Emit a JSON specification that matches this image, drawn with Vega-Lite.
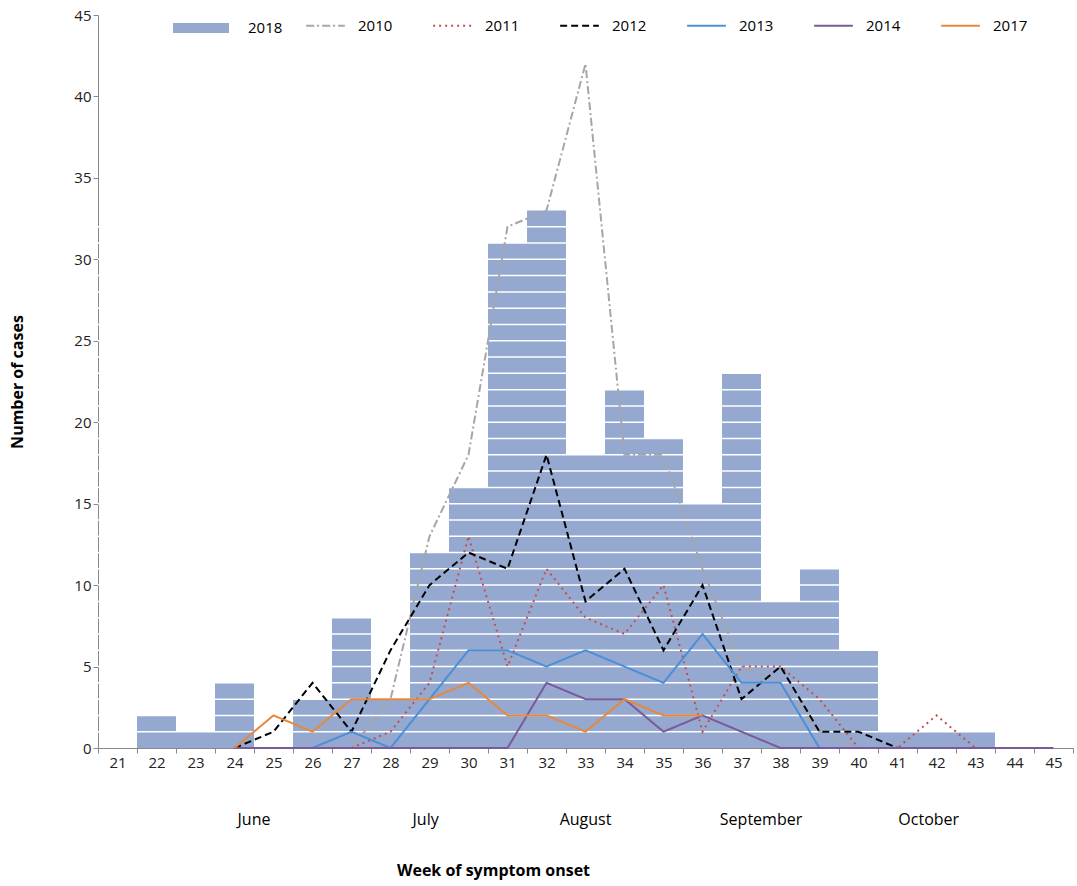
{
  "$schema": "https://vega.github.io/schema/vega-lite/v6.json",
  "width": 975,
  "height": 733,
  "autosize": "none",
  "padding": {"left": 98, "top": 15, "right": 4, "bottom": 138},
  "background": "white",
  "config": {
    "view": {"stroke": null},
    "font": "Open Sans",
    "axis": {"labelFont": "Open Sans", "labelFontSize": 15, "labelColor": "#222", "domainColor": "#888", "tickColor": "#888", "grid": false, "titleFont": "Open Sans", "titleFontSize": 16, "titleFontWeight": "bold", "titleColor": "#000"}
  },
  "datasets": {
    "bars": [
      {"week": 21, "cases": 0}, {"week": 22, "cases": 2}, {"week": 23, "cases": 1}, {"week": 24, "cases": 4},
      {"week": 25, "cases": 0}, {"week": 26, "cases": 3}, {"week": 27, "cases": 8}, {"week": 28, "cases": 3},
      {"week": 29, "cases": 12}, {"week": 30, "cases": 16}, {"week": 31, "cases": 31}, {"week": 32, "cases": 33},
      {"week": 33, "cases": 18}, {"week": 34, "cases": 22}, {"week": 35, "cases": 19}, {"week": 36, "cases": 15},
      {"week": 37, "cases": 23}, {"week": 38, "cases": 9}, {"week": 39, "cases": 11}, {"week": 40, "cases": 6},
      {"week": 41, "cases": 1}, {"week": 42, "cases": 1}, {"week": 43, "cases": 1}, {"week": 44, "cases": 0},
      {"week": 45, "cases": 0}
    ],
    "units": [
      {"u": 1}, {"u": 2}, {"u": 3}, {"u": 4}, {"u": 5}, {"u": 6}, {"u": 7}, {"u": 8}, {"u": 9}, {"u": 10},
      {"u": 11}, {"u": 12}, {"u": 13}, {"u": 14}, {"u": 15}, {"u": 16}, {"u": 17}, {"u": 18}, {"u": 19}, {"u": 20},
      {"u": 21}, {"u": 22}, {"u": 23}, {"u": 24}, {"u": 25}, {"u": 26}, {"u": 27}, {"u": 28}, {"u": 29}, {"u": 30},
      {"u": 31}, {"u": 32}
    ],
    "lines": [
      {"year": "2010", "week": 27, "cases": 0}, {"year": "2010", "week": 28, "cases": 3}, {"year": "2010", "week": 29, "cases": 13},
      {"year": "2010", "week": 30, "cases": 18}, {"year": "2010", "week": 31, "cases": 32}, {"year": "2010", "week": 32, "cases": 33},
      {"year": "2010", "week": 33, "cases": 42}, {"year": "2010", "week": 34, "cases": 18}, {"year": "2010", "week": 35, "cases": 18},
      {"year": "2010", "week": 36, "cases": 11}, {"year": "2010", "week": 37, "cases": 5}, {"year": "2010", "week": 38, "cases": 4},
      {"year": "2010", "week": 39, "cases": 1}, {"year": "2010", "week": 40, "cases": 0},
      {"year": "2011", "week": 27, "cases": 0}, {"year": "2011", "week": 28, "cases": 1}, {"year": "2011", "week": 29, "cases": 4},
      {"year": "2011", "week": 30, "cases": 13}, {"year": "2011", "week": 31, "cases": 5}, {"year": "2011", "week": 32, "cases": 11},
      {"year": "2011", "week": 33, "cases": 8}, {"year": "2011", "week": 34, "cases": 7}, {"year": "2011", "week": 35, "cases": 10},
      {"year": "2011", "week": 36, "cases": 1}, {"year": "2011", "week": 37, "cases": 5}, {"year": "2011", "week": 38, "cases": 5},
      {"year": "2011", "week": 39, "cases": 3}, {"year": "2011", "week": 40, "cases": 0}, {"year": "2011", "week": 41, "cases": 0},
      {"year": "2011", "week": 42, "cases": 2}, {"year": "2011", "week": 43, "cases": 0},
      {"year": "2012", "week": 24, "cases": 0}, {"year": "2012", "week": 25, "cases": 1}, {"year": "2012", "week": 26, "cases": 4},
      {"year": "2012", "week": 27, "cases": 1}, {"year": "2012", "week": 28, "cases": 6}, {"year": "2012", "week": 29, "cases": 10},
      {"year": "2012", "week": 30, "cases": 12}, {"year": "2012", "week": 31, "cases": 11}, {"year": "2012", "week": 32, "cases": 18},
      {"year": "2012", "week": 33, "cases": 9}, {"year": "2012", "week": 34, "cases": 11}, {"year": "2012", "week": 35, "cases": 6},
      {"year": "2012", "week": 36, "cases": 10}, {"year": "2012", "week": 37, "cases": 3}, {"year": "2012", "week": 38, "cases": 5},
      {"year": "2012", "week": 39, "cases": 1}, {"year": "2012", "week": 40, "cases": 1}, {"year": "2012", "week": 41, "cases": 0},
      {"year": "2013", "week": 26, "cases": 0}, {"year": "2013", "week": 27, "cases": 1}, {"year": "2013", "week": 28, "cases": 0},
      {"year": "2013", "week": 29, "cases": 3}, {"year": "2013", "week": 30, "cases": 6}, {"year": "2013", "week": 31, "cases": 6},
      {"year": "2013", "week": 32, "cases": 5}, {"year": "2013", "week": 33, "cases": 6}, {"year": "2013", "week": 34, "cases": 5},
      {"year": "2013", "week": 35, "cases": 4}, {"year": "2013", "week": 36, "cases": 7}, {"year": "2013", "week": 37, "cases": 4},
      {"year": "2013", "week": 38, "cases": 4}, {"year": "2013", "week": 39, "cases": 0},
      {"year": "2014", "week": 24, "cases": 0}, {"year": "2014", "week": 31, "cases": 0}, {"year": "2014", "week": 32, "cases": 4},
      {"year": "2014", "week": 33, "cases": 3}, {"year": "2014", "week": 34, "cases": 3}, {"year": "2014", "week": 35, "cases": 1},
      {"year": "2014", "week": 36, "cases": 2}, {"year": "2014", "week": 37, "cases": 1}, {"year": "2014", "week": 38, "cases": 0},
      {"year": "2014", "week": 45, "cases": 0},
      {"year": "2017", "week": 24, "cases": 0}, {"year": "2017", "week": 25, "cases": 2}, {"year": "2017", "week": 26, "cases": 1},
      {"year": "2017", "week": 27, "cases": 3}, {"year": "2017", "week": 28, "cases": 3}, {"year": "2017", "week": 29, "cases": 3},
      {"year": "2017", "week": 30, "cases": 4}, {"year": "2017", "week": 31, "cases": 2}, {"year": "2017", "week": 32, "cases": 2},
      {"year": "2017", "week": 33, "cases": 1}, {"year": "2017", "week": 34, "cases": 3}, {"year": "2017", "week": 35, "cases": 2},
      {"year": "2017", "week": 36, "cases": 2}
    ],
    "months": [
      {"month": "June", "pos": 24.5}, {"month": "July", "pos": 28.9}, {"month": "August", "pos": 33.0},
      {"month": "September", "pos": 37.5}, {"month": "October", "pos": 41.8}
    ]
  },
  "layer": [
    {
      "layer": [
        {
          "data": {"name": "bars"},
          "mark": {"type": "bar", "color": "#94a8d0"},
          "encoding": {
            "x": {"field": "week", "type": "ordinal", "scale": {"paddingInner": 0, "paddingOuter": 0},
                  "axis": {"labelAngle": 0, "tickBand": "extent", "title": "Week of symptom onset", "titleX": 395, "titleY": 114, "titleAlign": "center"}},
            "y": {"field": "cases", "type": "quantitative", "scale": {"domain": [0, 45]},
                  "axis": {"values": [0, 5, 10, 15, 20, 25, 30, 35, 40, 45], "title": "Number of cases", "titlePadding": 48}}
          }
        },
        {
          "data": {"name": "units"},
          "mark": {"type": "rule", "color": "white", "strokeWidth": 1.5},
          "encoding": {"y": {"field": "u", "type": "quantitative"}}
        },
        {
          "data": {"name": "lines"},
          "mark": {"type": "line"},
          "encoding": {
            "x": {"field": "week", "type": "ordinal"},
            "y": {"field": "cases", "type": "quantitative"},
            "detail": {"field": "year"},
            "color": {"field": "year", "type": "nominal",
              "scale": {"domain": ["2010", "2011", "2012", "2013", "2014", "2017"], "range": ["#a6a6a6", "#c0504d", "#000000", "#4a90d9", "#7a5a9a", "#e8883a"]},
              "legend": {"orient": "none", "legendX": 207, "legendY": -10, "direction": "horizontal", "title": null, "symbolType": "stroke", "symbolSize": 1500, "symbolStrokeWidth": 2.5, "labelFontSize": 15, "labelFont": "Open Sans", "labelOffset": 12, "columnPadding": 36}},
            "strokeDash": {"field": "year", "type": "nominal",
              "scale": {"domain": ["2010", "2011", "2012", "2013", "2014", "2017"], "range": [[8, 3, 2, 3], [2, 4], [7, 4], [1, 0], [1, 0], [1, 0]]},
              "legend": null},
            "strokeWidth": {"field": "year", "type": "nominal",
              "scale": {"domain": ["2010", "2011", "2012", "2013", "2014", "2017"], "range": [2, 2, 2.8, 2, 2.5, 3.8]},
              "legend": null}
          }
        },
        {
          "data": {"values": [{"label": "2018", "week": 21, "cases": 0}]},
          "mark": {"type": "square", "opacity": 0},
          "encoding": {
            "x": {"field": "week", "type": "ordinal"},
            "y": {"field": "cases", "type": "quantitative"},
            "fill": {"field": "label", "type": "nominal", "scale": {"range": ["#94a8d0"]},
              "legend": {"orient": "none", "legendX": 92, "legendY": 2, "title": null, "symbolType": "M-2.8,-0.5H2.8V0.5H-2.8Z", "symbolSize": 400, "symbolOpacity": 1, "labelFontSize": 15, "labelFont": "Open Sans", "labelOffset": 36}}
          }
        }
      ]
    },
    {
      "data": {"name": "months"},
      "mark": {"type": "text", "fontSize": 16, "font": "Open Sans", "color": "#000"},
      "encoding": {
        "x": {"field": "pos", "type": "quantitative", "scale": {"domain": [20.5, 45.5]}, "axis": null},
        "y": {"datum": -4.4, "type": "quantitative"},
        "text": {"field": "month"}
      }
    }
  ],
  "resolve": {"scale": {"x": "independent"}}
}
